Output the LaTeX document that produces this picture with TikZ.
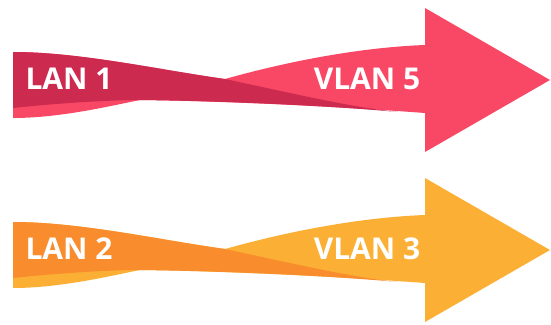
\documentclass[tikz,border=0pt]{standalone}
\usepackage{fontspec}
\newfontfamily\lanfont{Open Sans}
\usepackage{tikz}

\definecolor{lanred}{HTML}{CD2A50}
\definecolor{vlanred}{HTML}{F84865}
\definecolor{lanorange}{HTML}{F98D2D}
\definecolor{vlanorange}{HTML}{FBB035}

\begin{document}
\begin{tikzpicture}[x=1pt,y=-1pt,
    label/.style={text=white,font=\lanfont\bfseries\fontsize{30}{30}\selectfont}]
    \useasboundingbox (0,0) rectangle (551,324);
    \foreach \dy/\dark/\light/\lan/\vlan/\n in
        {0/lanred/vlanred/LAN 1/VLAN 5/top, 170/lanorange/vlanorange/LAN 2/VLAN 3/bottom}{
      \begin{scope}[yshift=-\dy pt]
        % ribbon and arrow head
        \fill[\light] (13,52) .. controls (80,52) and (160,70) .. (225,79)
            .. controls (300,58) and (370,47) .. (425,45)
            -- (425,8) -- (550,80) -- (425,152) -- (425,113)
            .. controls (330,106) and (220,101) .. (140,100)
            .. controls (110,106) and (60,118) .. (13,118) -- cycle;
        % twisted part
        \fill[\dark] (13,52) .. controls (80,52) and (160,70) .. (225,79)
            .. controls (300,95) and (350,107) .. (398,112)
            .. controls (320,105) and (220,101) .. (140,100)
            .. controls (110,100) and (60,103) .. (13,108) -- cycle;
        \node[label] (lan-\n) at (69,79) {\lan};
        \node[label] (vlan-\n) at (367,79) {\vlan};
      \end{scope}
    }
\end{tikzpicture}
\end{document}
